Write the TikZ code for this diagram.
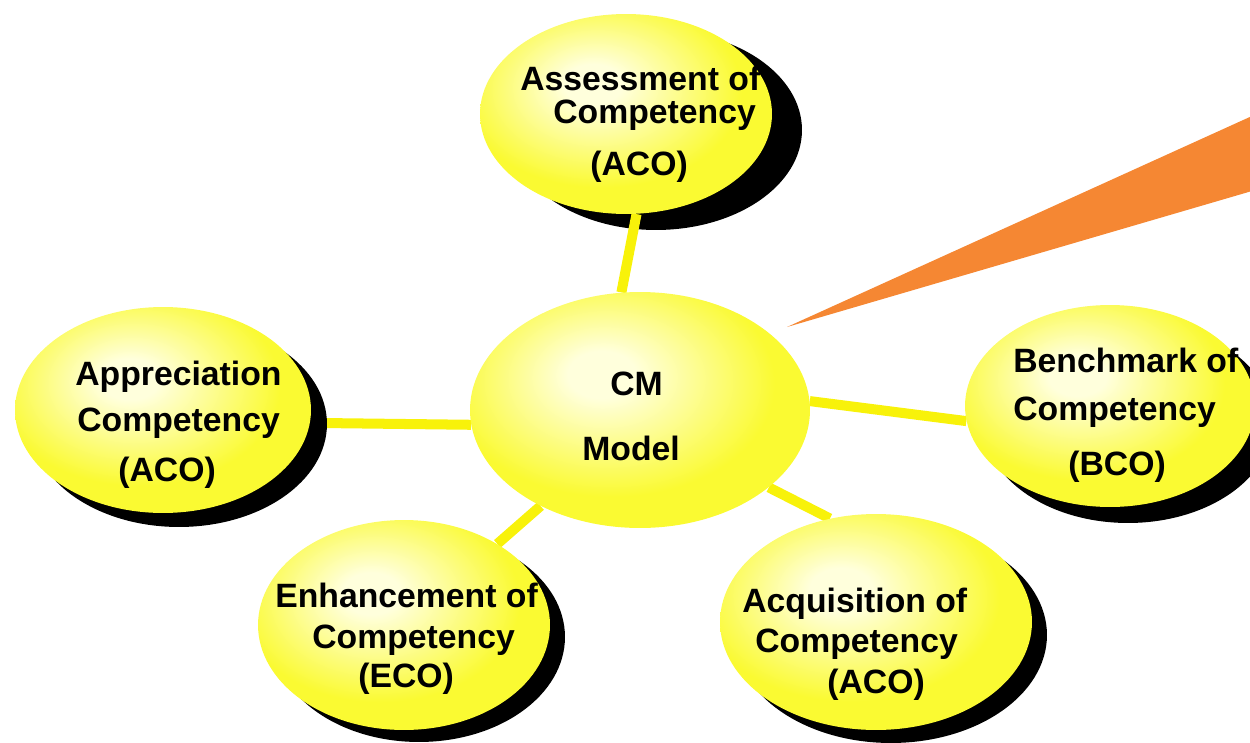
\documentclass[tikz,border=0pt]{standalone}
\usepackage{fontspec}
\setmainfont{Liberation Sans}
\usetikzlibrary{shapes.geometric,backgrounds}
\definecolor{ylw}{RGB}{250,250,50}
\definecolor{ylwrim}{RGB}{238,232,0}
\definecolor{hl}{RGB}{255,255,220}
\definecolor{linkylw}{RGB}{248,242,10}
\definecolor{wedge}{RGB}{245,135,51}
\pgfdeclareradialshading{glow}{\pgfpoint{-6bp}{8bp}}{color(0bp)=(hl); color(5bp)=(hl); color(24bp)=(ylw); color(44bp)=(ylw); color(52bp)=(ylwrim); color(80bp)=(ylwrim)}
\begin{document}
\begin{tikzpicture}[x=0.02cm,y=-0.02cm,
  bubble/.style={ellipse, inner sep=0pt, shade, shading=glow},
  shadowfill/.style={fill=black},
  link/.style={line width=5.7pt, draw=linkylw},
  lbl/.style={anchor=base west, inner sep=0pt, font=\fontsize{19.2}{23}\selectfont\bfseries}]
\useasboundingbox (0,0) rectangle (1250,743);
% bubbles
\node[bubble, minimum width=5.84cm, minimum height=4.0cm] (assess) at (626,114) {};
\node[bubble, minimum width=6.8cm, minimum height=4.72cm] (cm) at (640,410) {};
\node[bubble, minimum width=5.92cm, minimum height=4.12cm] (appr) at (163,410) {};
\node[bubble, minimum width=5.8cm, minimum height=4.04cm] (bench) at (1110,406) {};
\node[bubble, minimum width=5.84cm, minimum height=4.2cm] (enh) at (404,625) {};
\node[bubble, minimum width=6.24cm, minimum height=4.32cm] (acq) at (876,622) {};
% shadows and connectors, behind the bubbles
\begin{scope}[on background layer]
\draw[link] (appr.-5) -- (cm.185);
\fill[shadowfill] ([shift={(30,16)}]assess.center) ellipse [x radius=2.92cm, y radius=2.0cm];
\fill[shadowfill] ([shift={(16,14)}]appr.center) ellipse [x radius=2.96cm, y radius=2.06cm];
\fill[shadowfill] ([shift={(18,16)}]bench.center) ellipse [x radius=2.9cm, y radius=2.02cm];
\fill[shadowfill] ([shift={(15,12)}]enh.center) ellipse [x radius=2.92cm, y radius=2.1cm];
\fill[shadowfill] ([shift={(15,13)}]acq.center) ellipse [x radius=3.12cm, y radius=2.16cm];
\draw[link] (assess.-84) -- (cm.99);
\draw[link] (cm.3) -- (bench.186);
\draw[link] (enh.41) -- (cm.224);
\draw[link] (cm.-31.6) -- (acq.114);
\end{scope}
% orange pointer
\coordinate (tip) at (787,327);
\coordinate (wt) at (1252,116);
\coordinate (wb) at (1252,191);
\fill[wedge] (tip) -- (wt) -- (wb) -- cycle;
% texts
\node[lbl] (t1) at (520,91) {Assessment of};
\node[lbl] (t2) at (553,124) {Competency};
\node[lbl] (t3) at (590,175) {(ACO)};
\node[lbl] (t4) at (610,395) {CM};
\node[lbl] (t5) at (582,460) {Model};
\node[lbl] (t6) at (75,385) {Appreciation};
\node[lbl] (t7) at (77,431) {Competency};
\node[lbl] (t8) at (118,481) {(ACO)};
\node[lbl] (t9) at (1013,372) {Benchmark of};
\node[lbl] (t10) at (1013,420) {Competency};
\node[lbl] (t11) at (1068,475) {(BCO)};
\node[lbl] (t12) at (275,607) {Enhancement of};
\node[lbl] (t13) at (312,648) {Competency};
\node[lbl] (t14) at (358,687) {(ECO)};
\node[lbl] (t15) at (742,612) {Acquisition of};
\node[lbl] (t16) at (755,652) {Competency};
\node[lbl] (t17) at (827,693) {(ACO)};
\end{tikzpicture}
\end{document}
